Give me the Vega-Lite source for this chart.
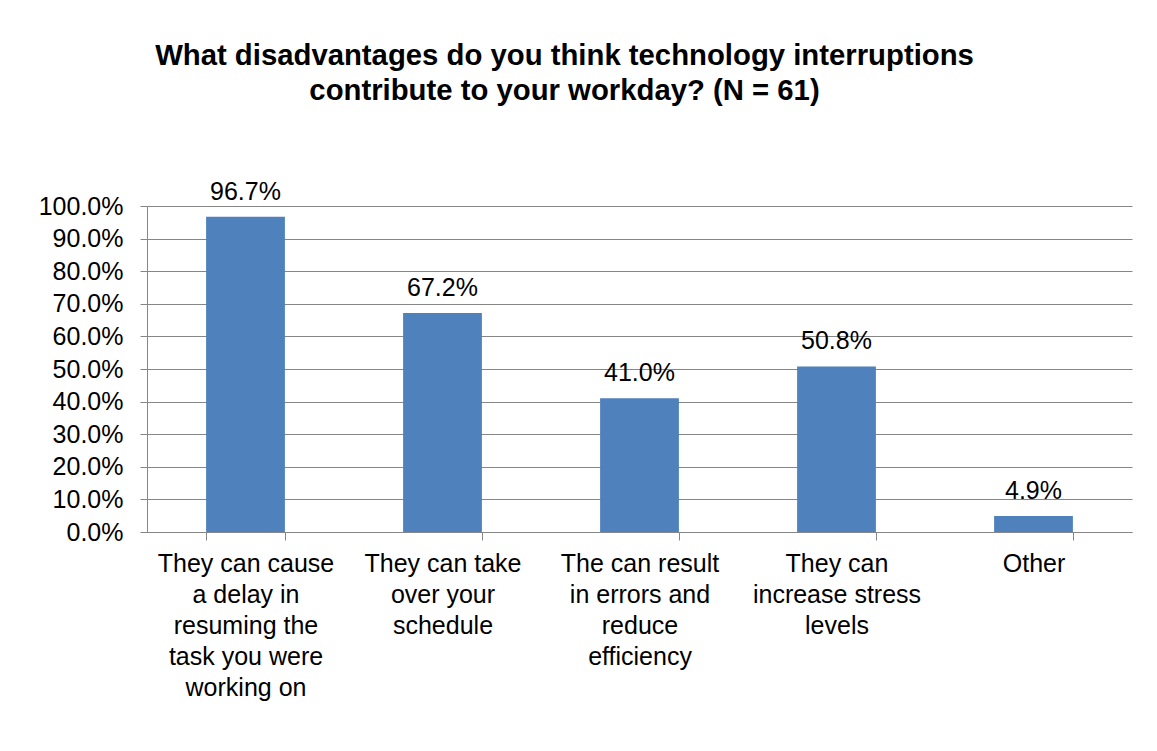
{
  "$schema": "https://vega.github.io/schema/vega-lite/v6.json",
  "autosize": {"type": "none"},
  "padding": {"left": 147, "top": 206, "right": 25, "bottom": 219},
  "width": 985,
  "height": 326,
  "background": "white",
  "title": {
    "text": ["What disadvantages do you think technology interruptions", "contribute to your workday? (N = 61)"],
    "font": "Liberation Sans",
    "fontSize": 29.3,
    "fontWeight": "bold",
    "color": "black",
    "lineHeight": 35,
    "anchor": "middle",
    "frame": "group",
    "dx": -75,
    "offset": 73
  },
  "data": {
    "values": [
      {"category": "They can cause\na delay in\nresuming the\ntask you were\nworking on", "value": 0.967},
      {"category": "They can take\nover your\nschedule", "value": 0.672},
      {"category": "The can result\nin errors and\nreduce\nefficiency", "value": 0.41},
      {"category": "They can\nincrease stress\nlevels", "value": 0.508},
      {"category": "Other", "value": 0.049}
    ]
  },
  "encoding": {
    "x": {
      "field": "category",
      "type": "nominal",
      "sort": null,
      "scale": {"paddingInner": 0.6, "paddingOuter": 0.3},
      "axis": {
        "title": null,
        "labelAngle": 0,
        "labelExpr": "split(datum.label, '\\n')",
        "labelFont": "Liberation Sans",
        "labelFontSize": 25,
        "labelLineHeight": 31,
        "labelColor": "black",
        "labelPadding": 11,
        "labelLimit": 300,
        "labelOverlap": false,
        "tickBand": "extent",
        "tickSize": 8,
        "tickColor": "#868686",
        "domainColor": "#868686",
        "grid": false
      }
    },
    "y": {
      "field": "value",
      "type": "quantitative",
      "scale": {"domain": [0, 1]},
      "axis": {
        "title": null,
        "format": ".1%",
        "values": [0, 0.1, 0.2, 0.3, 0.4, 0.5, 0.6, 0.7, 0.8, 0.9, 1.0],
        "labelOverlap": false,
        "labelFont": "Liberation Sans",
        "labelFontSize": 25,
        "labelColor": "black",
        "labelPadding": 17,
        "tickSize": 7,
        "tickColor": "#868686",
        "domainColor": "#868686",
        "gridColor": "#868686",
        "grid": true
      }
    }
  },
  "layer": [
    {"mark": {"type": "bar", "color": "#4F81BD"}},
    {
      "mark": {"type": "text", "font": "Liberation Sans", "fontSize": 25, "color": "black", "baseline": "alphabetic", "dy": -17},
      "encoding": {"text": {"field": "value", "type": "quantitative", "format": ".1%"}}
    }
  ],
  "config": {"view": {"stroke": null}}
}
